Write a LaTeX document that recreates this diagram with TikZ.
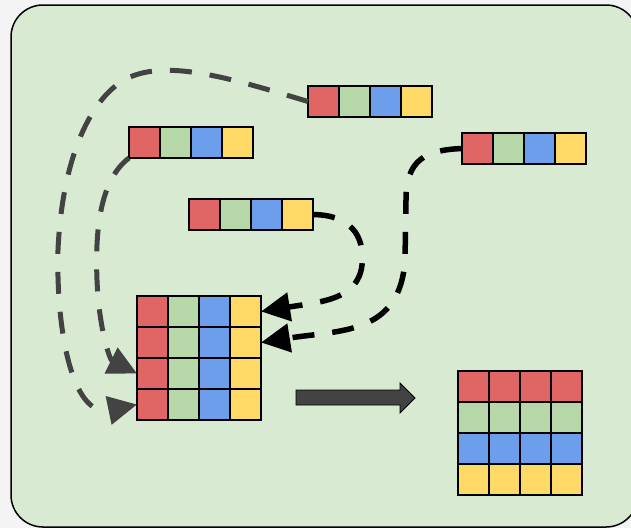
\documentclass[tikz,border=0pt]{standalone}
\usepackage{tikz}
\usetikzlibrary{arrows.meta}
\definecolor{cred}{HTML}{E06666}
\definecolor{cgreen}{HTML}{B6D7A8}
\definecolor{cblue}{HTML}{6D9EEB}
\definecolor{cyellow}{HTML}{FFD966}
\definecolor{panel}{HTML}{D9EAD3}
\definecolor{paper}{HTML}{F4F4F4}
\definecolor{lgray}{HTML}{434343}
\tikzset{
  cell/.style  = {draw, line width=1.6pt, minimum size=31pt, inner sep=0pt, outer sep=0pt},
  feed/.style  = {line width=5pt, draw=lgray, dash pattern=on 22pt off 18pt,
                  -{Triangle[length=29pt,width=28pt]}},
  feedk/.style = {feed, draw=black, line width=5.5pt},
  bigarr/.style = {fill=lgray, draw=black, line width=0.8pt},
}

\begin{document}
\begin{tikzpicture}[x=1pt,y=-1pt]
  \clip (0,0) rectangle (631,528);
  \fill[paper] (0,0) rectangle (631,528);
  \draw[line width=1.5pt, fill=panel, rounded corners=32pt] (11,5) rectangle (638,527);

  % the four vectors
  \foreach \v/\x/\y in {v1/308/86, v2/129/127, v3/189/199, v4/462/133}
    \foreach \col [count=\i] in {cred,cgreen,cblue,cyellow}
      {\node[cell, fill=\col] (\v-\i) at (\x+31*\i-15.5, \y+15.5) {};}

  % stacked by rows / by columns
  \foreach \r in {1,...,4}
    \foreach \col [count=\c] in {cred,cgreen,cblue,cyellow}
      {\node[cell, fill=\col] (a-\r-\c) at (137+31*\c-15.5, 296+31*\r-15.5) {};}
  \foreach \col [count=\r] in {cred,cgreen,cblue,cyellow}
    \foreach \c in {1,...,4}
      {\node[cell, fill=\col] (b-\r-\c) at (458+31*\c-15.5, 371+31*\r-15.5) {};}

  \draw[feed] (v1-1.west) .. controls (230,78) and (170,60) .. (130,77)
    .. controls (90,95) and (62,160) .. (58,250)
    .. controls (56,330) and (72,418) .. (a-4-1.west);
  \draw[feed] (v2-1.south west) .. controls (100,180) and (95,230) .. (97,280)
    .. controls (99,330) and (110,360) .. (a-3-1.west);
  \draw[feedk] (v3-4.east) .. controls (350,215) and (365,235) .. (362,265)
    .. controls (358,300) and (320,302) .. (a-1-4.east);
  \draw[feedk] (v4-1.west) .. controls (425,150) and (406,160) .. (406,200)
    -- (405,260) .. controls (400,335) and (340,330) .. (a-2-4.east);

  \filldraw[bigarr] (296,390) -- (400,390) -- (400,383) -- (415,398)
    -- (400,413) -- (400,405) -- (296,405) -- cycle;
\end{tikzpicture}
\end{document}
